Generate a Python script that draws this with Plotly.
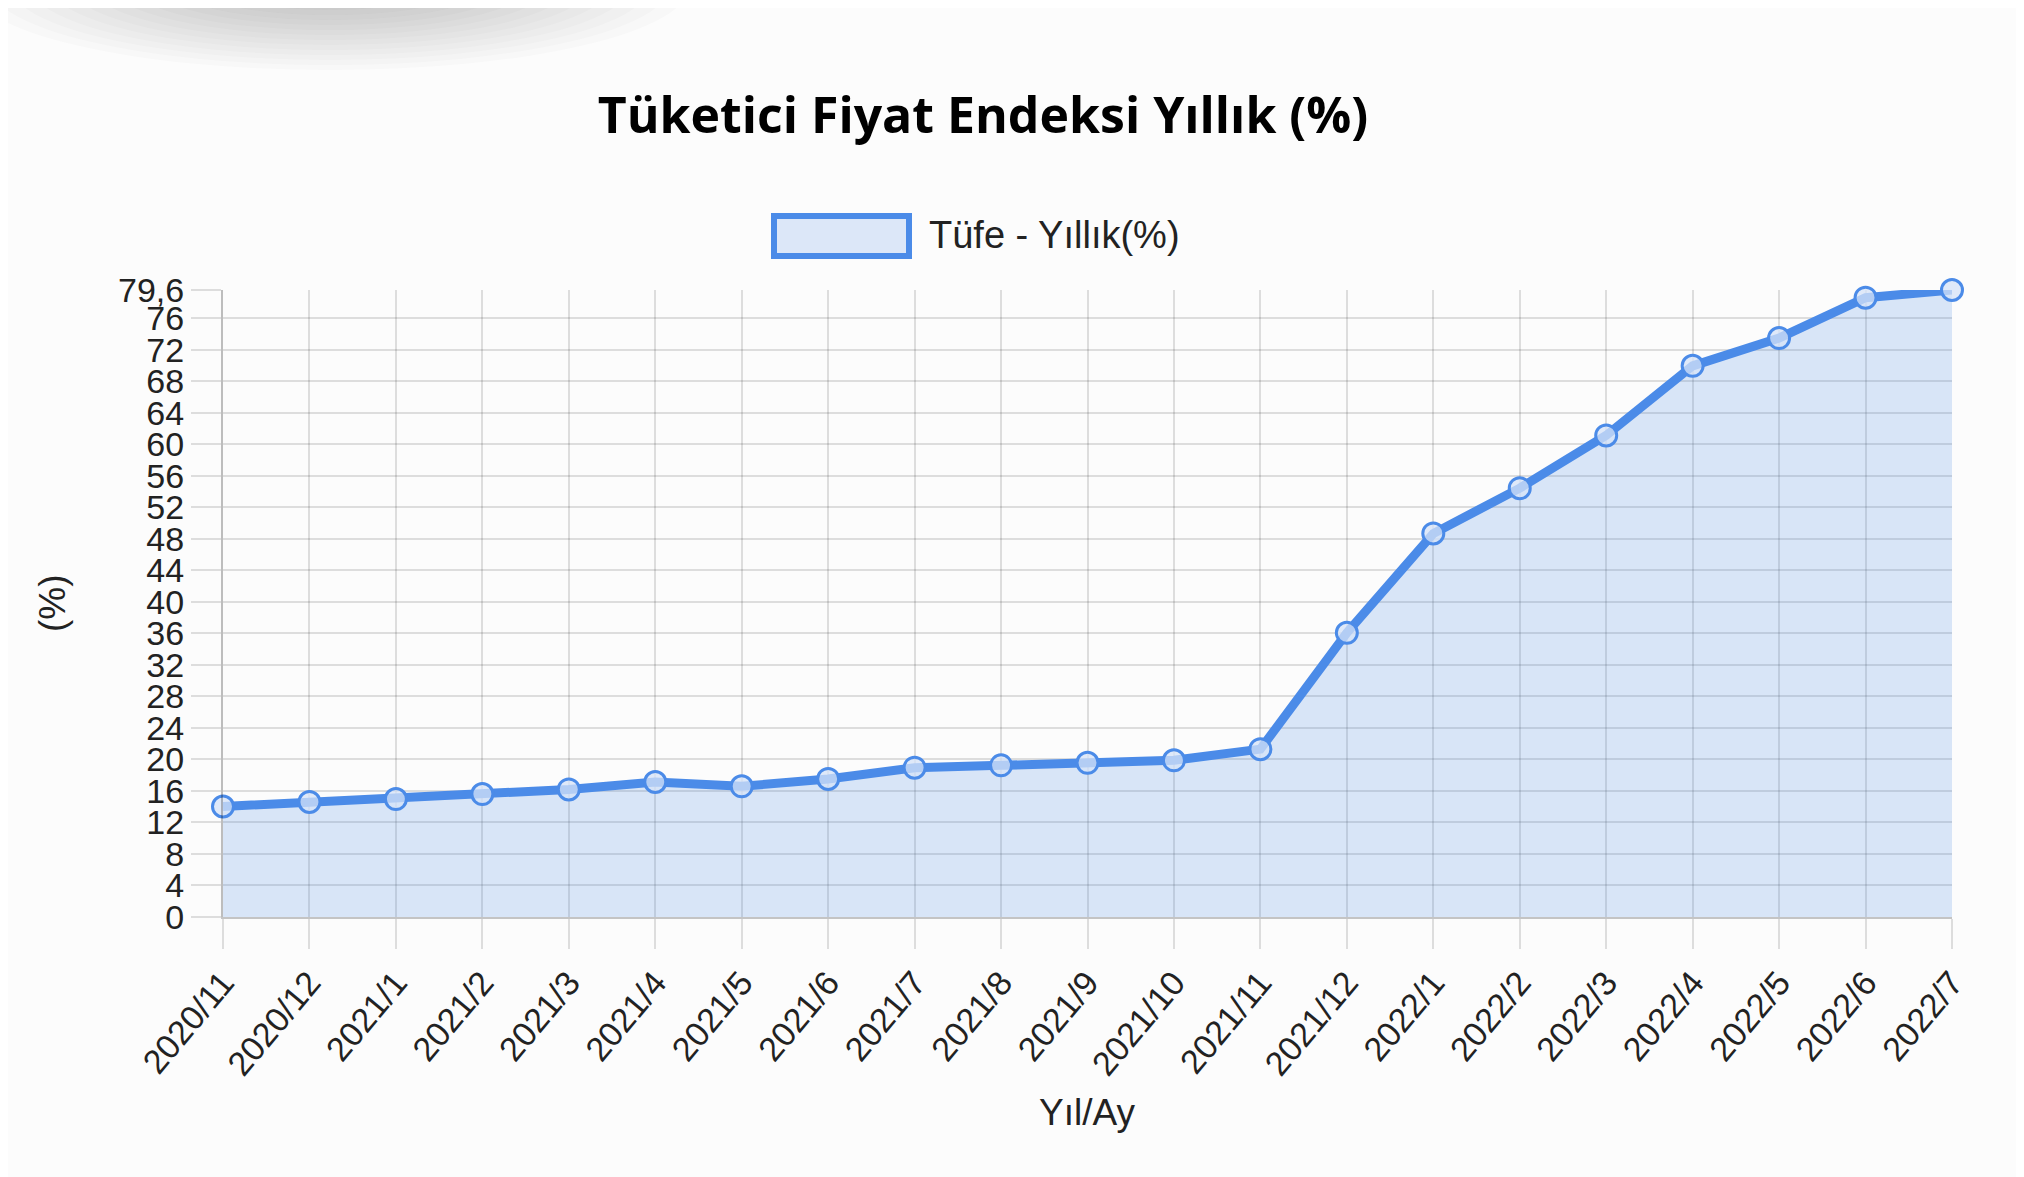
import plotly.graph_objects as go

months = ["2020/11", "2020/12", "2021/1", "2021/2", "2021/3", "2021/4", "2021/5",
          "2021/6", "2021/7", "2021/8", "2021/9", "2021/10", "2021/11", "2021/12",
          "2022/1", "2022/2", "2022/3", "2022/4", "2022/5", "2022/6", "2022/7"]
tufe_yillik = [14.03, 14.60, 14.97, 15.61, 16.19, 17.14, 16.59, 17.53, 18.95, 19.25,
               19.58, 19.89, 21.31, 36.08, 48.69, 54.44, 61.14, 69.97, 73.50, 78.62, 79.60]
y_tickvals = [0, 4, 8, 12, 16, 20, 24, 28, 32, 36, 40, 44, 48, 52, 56, 60, 64, 68, 72, 76, 79.6]
y_ticktext = ["0", "4", "8", "12", "16", "20", "24", "28", "32", "36", "40", "44", "48",
              "52", "56", "60", "64", "68", "72", "76", "79,6"]

# the page body has an 8px margin: work in window pixels and shift by OFF
OFF = 8
W, H = 2024 - OFF, 1177 - OFF
L_PX, R_PX, T_PX, B_PX = 223, 1952, 290, 917   # plot area in window pixels
ML = L_PX - OFF
MR = W - (R_PX - OFF)
MT = T_PX - OFF
MB = H - (B_PX - OFF)
PW, PH = W - ML - MR, H - MT - MB


def px(x):
    return (x - OFF - ML) / PW


def py(y):
    return 1 - (y - OFF - MT) / PH


BLUE = "#4b8be8"
FILL = "rgba(75,139,232,0.2)"
FONT = "Liberation Sans, Arial, sans-serif"

fig = go.Figure()
fig.add_trace(go.Scatter(
    x=list(range(len(months))), y=tufe_yillik,
    mode="lines+markers",
    fill="tozeroy", fillcolor=FILL,
    line=dict(color=BLUE, width=9),
    marker=dict(size=21, color="rgba(214,227,248,0.75)", line=dict(color=BLUE, width=3)),
    cliponaxis=False,
    name="Tüfe - Yıllık(%)",
    showlegend=False,
))

shapes = []
# soft shadow at top-left
n = 14
for i in range(n):
    rx = 360 - i * 20
    ry = 85 - i * 5
    cx, cy = 330, -15
    shapes.append(dict(type="circle", xref="paper", yref="paper",
                       x0=px(cx - rx), x1=px(cx + rx), y0=py(cy + ry), y1=py(cy - ry),
                       line=dict(width=0), fillcolor="rgba(80,80,80,0.022)", layer="below"))
# legend box
shapes.append(dict(type="rect", xref="paper", yref="paper",
                   x0=px(774), x1=px(909), y0=py(256), y1=py(216),
                   line=dict(color=BLUE, width=6), fillcolor="rgba(220,231,248,1)"))

annotations = [
    dict(text="Tüfe - Yıllık(%)", xref="paper", yref="paper", x=px(927), y=py(235),
         xanchor="left", yanchor="middle", showarrow=False,
         font=dict(family=FONT, size=38, color="#222")),
    dict(text="Yıl/Ay", xref="paper", yref="paper", x=px(1087), y=py(1112),
         xanchor="center", yanchor="middle", showarrow=False,
         font=dict(family=FONT, size=37, color="#222")),
    dict(text="(%)", xref="paper", yref="paper", x=px(52), y=py(603),
         xanchor="center", yanchor="middle", showarrow=False, textangle=-90,
         font=dict(family=FONT, size=37, color="#222")),
]

fig.update_layout(
    width=W, height=H,
    margin=dict(l=ML, r=MR, t=MT, b=MB),
    paper_bgcolor="#fcfcfc",
    plot_bgcolor="rgba(0,0,0,0)",
    title=dict(text="<b>Tüketici Fiyat Endeksi Yıllık (%)</b>",
               x=(983 - OFF) / W, xanchor="center", y=1 - (115 - OFF) / H, yanchor="middle",
               xref="container", yref="container",
               font=dict(family="Open Sans, sans-serif", size=50, color="#000")),
    shapes=shapes,
    annotations=annotations,
    xaxis=dict(
        range=[0, len(months) - 1],
        tickmode="array", tickvals=list(range(len(months))), ticktext=months,
        tickangle=-50,
        showgrid=True, gridcolor="rgba(0,0,0,0.12)", gridwidth=1.5,
        showline=True, linecolor="rgba(0,0,0,0.22)", linewidth=2,
        ticks="outside", ticklen=30, tickcolor="rgba(0,0,0,0.12)", tickwidth=1.5,
        tickfont=dict(family=FONT, size=34, color="#222"),
        zeroline=False,
    ),
    yaxis=dict(
        range=[0, 79.6],
        tickmode="array", tickvals=y_tickvals, ticktext=y_ticktext,
        showgrid=True, gridcolor="rgba(0,0,0,0.12)", gridwidth=1.5,
        showline=True, linecolor="rgba(0,0,0,0.25)", linewidth=2,
        ticks="outside", ticklen=30, tickcolor="rgba(0,0,0,0.12)", tickwidth=1.5,
        tickfont=dict(family=FONT, size=34, color="#222"),
        zeroline=False,
    ),
)

fig.write_html("out.html")
